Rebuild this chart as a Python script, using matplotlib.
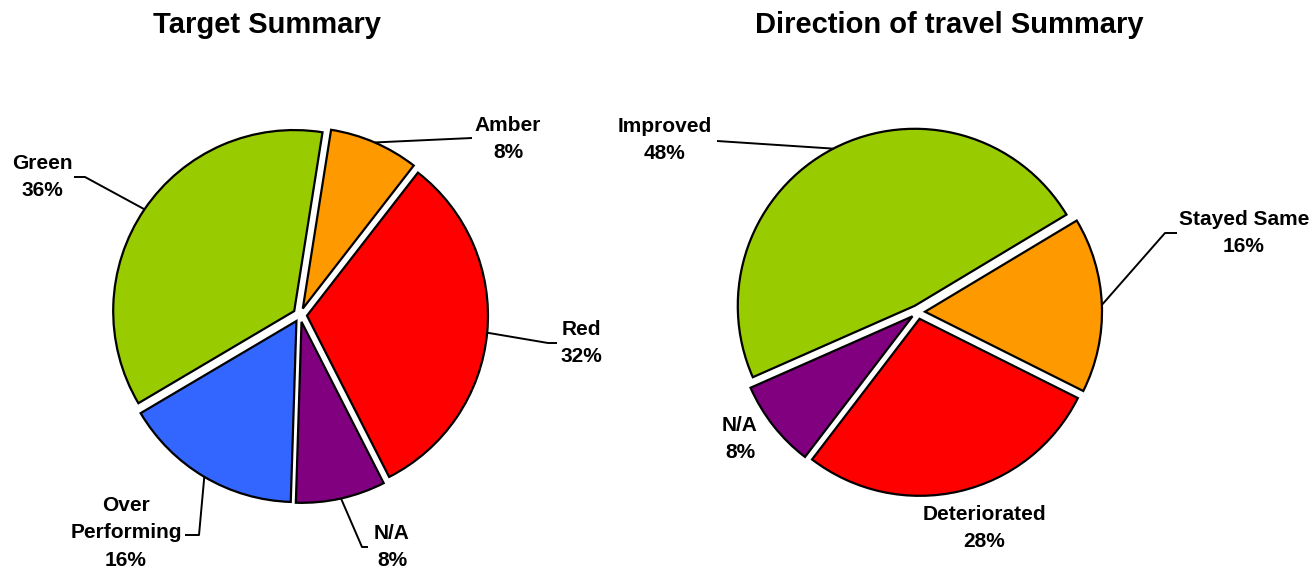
import numpy as np
import matplotlib.pyplot as plt

plt.rcParams['font.family'] = ['Liberation Sans', 'DejaVu Sans']

# data
target_labels = ['Amber', 'Red', 'N/A', 'Over\nPerforming', 'Green']
target_values = [8, 32, 8, 16, 36]
target_colors = ['#FF9900', '#FF0000', '#800080', '#3366FF', '#99CC00']

travel_labels = ['Improved', 'N/A', 'Deteriorated', 'Stayed Same']
travel_values = [48, 8, 28, 16]
travel_colors = ['#99CC00', '#800080', '#FF0000', '#FF9900']

W, H = 1315, 568
fig = plt.figure(figsize=(W / 100, H / 100), dpi=100)
ax = fig.add_axes([0, 0, 1, 1])

# explode is in data units (pixels here)
wp = dict(edgecolor='black', linewidth=1.6)
w1, _ = ax.pie(target_values, colors=target_colors, startangle=81,
               counterclock=False, explode=[7] * 5, radius=181,
               center=(300, H - 315), wedgeprops=wp)
w2, _ = ax.pie(travel_values, colors=travel_colors, startangle=31,
               counterclock=True, explode=[7] * 4, radius=177,
               center=(918, H - 312), wedgeprops=wp)

# label layout (pixels from top): text centre, leader line points after the anchor
lay1 = [((508, 139), [(472, 138)]),
        ((581, 343), [(548, 343), (557, 343)]),
        ((392, 547), [(362, 547), (368, 547)]),
        ((126, 533), [(199, 535), (185, 535)]),
        ((42, 177), [(85, 177), (74, 177)])]
lay2 = [((665, 140), [(717, 141)]),
        ((740, 439), []),
        ((984, 528), []),
        ((1244, 233), [(1165, 233), (1177, 233)])]


def anchor(w):
    a = np.deg2rad((w.theta1 + w.theta2) / 2)
    return w.center[0] + w.r * np.cos(a), w.center[1] + w.r * np.sin(a)


for wedges, labels, values, lay in [(w1, target_labels, target_values, lay1),
                                     (w2, travel_labels, travel_values, lay2)]:
    for w, lab, v, (txy, pts) in zip(wedges, labels, values, lay):
        if pts:
            x0, y0 = anchor(w)
            xs = [x0] + [p[0] for p in pts]
            ys = [y0] + [H - p[1] for p in pts]
            ax.plot(xs, ys, color='black', lw=1.4, solid_capstyle='butt')
        ax.text(txy[0], H - txy[1], f'{lab}\n{v}%', ha='center', va='center',
                fontsize=15, fontweight='bold', linespacing=1.55)

ax.text(267, H - 25, 'Target Summary', ha='center', va='center',
        fontsize=21, fontweight='bold')
ax.text(949, H - 25, 'Direction of travel Summary', ha='center', va='center',
        fontsize=21, fontweight='bold')

ax.set_xlim(0, W)
ax.set_ylim(0, H)
ax.set_aspect('equal')
ax.axis('off')

fig.savefig('out.png', dpi=100)
